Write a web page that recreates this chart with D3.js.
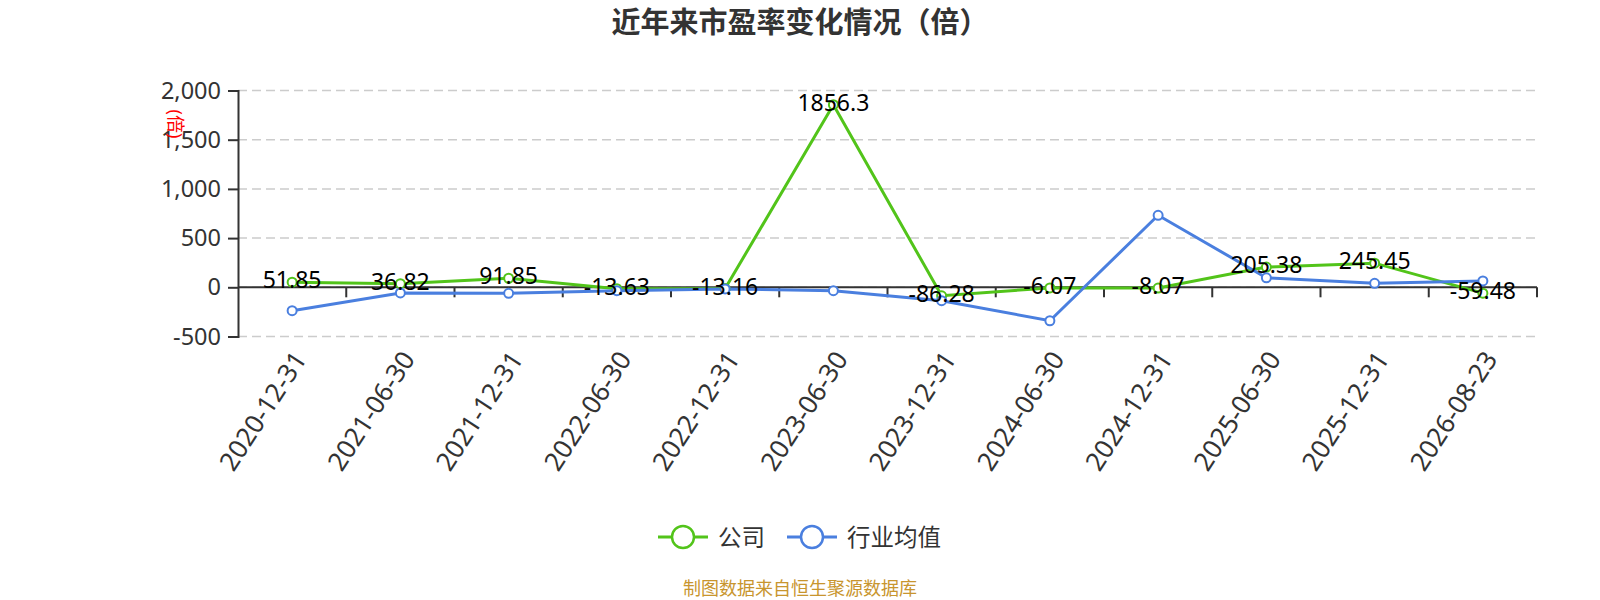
<!DOCTYPE html>
<html>
<head>
<meta charset="utf-8">
<script src="https://cdn.jsdelivr.net/npm/d3@7"></script>
<style>
  body { margin: 0; background: #fff; }
  text { font-family: "Noto Sans", "Noto Sans CJK SC", sans-serif; }
</style>
</head>
<body>
<div id="chart"></div>
<script>
// data
const dates = ["2020-12-31", "2021-06-30", "2021-12-31", "2022-06-30", "2022-12-31", "2023-06-30",
               "2023-12-31", "2024-06-30", "2024-12-31", "2025-06-30", "2025-12-31", "2026-08-23"];
const company = [51.85, 36.82, 91.85, -13.63, -13.16, 1856.3, -86.28, -6.07, -8.07, 205.38, 245.45, -59.48];
const industry = [-238, -57, -61, -34, -17, -34, -136, -340, 732, 96, 41, 65];
const yTicks = [-500, 0, 500, 1000, 1500, 2000];
const seriesNames = ["公司", "行业均值"];
const colors = ["#52c41a", "#4a7fdf"];

const width = 1600, height = 600;
const margin = {top: 90.5, bottom: 263.5, left: 238, right: 63};

const svg = d3.select("#chart")
    .append("svg")
    .attr("width", width)
    .attr("height", height);

const fmt = d3.formatLocale({decimal: ".", thousands: ",", grouping: [3], currency: ["", ""], minus: "-"}).format(",");

// scales
const x = d3.scaleBand()
    .domain(dates)
    .range([margin.left, width - margin.right])
    .padding(0);
const y = d3.scaleLinear()
    .domain([-500, 2000])
    .range([height - margin.bottom, margin.top]);
const cx = d => x(d) + x.bandwidth() / 2;

// title
svg.append("text")
    .attr("x", width / 2)
    .attr("y", 33)
    .attr("text-anchor", "middle")
    .attr("font-size", 29)
    .attr("font-weight", "bold")
    .attr("fill", "#333")
    .text("近年来市盈率变化情况（倍）");

// dashed grid
svg.append("g")
    .selectAll("line")
    .data(yTicks)
    .enter()
    .append("line")
    .attr("x1", margin.left)
    .attr("x2", width - margin.right)
    .attr("y1", d => y(d))
    .attr("y2", d => y(d))
    .attr("stroke", "#ccc")
    .attr("stroke-width", 1.5)
    .attr("stroke-dasharray", "9,5");

// y axis
const yAxis = svg.append("g")
    .attr("transform", `translate(${margin.left},0)`)
    .call(d3.axisLeft(y).tickValues(yTicks).tickFormat(fmt).tickSize(10).tickPadding(7));
yAxis.select(".domain").attr("stroke", "#333").attr("stroke-width", 2);
yAxis.selectAll(".tick line").attr("stroke", "#333").attr("stroke-width", 2);
yAxis.selectAll(".tick text")
    .attr("font-size", 23.5)
    .attr("fill", "#333")
    .style("font-family", "'Noto Sans', sans-serif");

// y unit label
svg.append("text")
    .attr("transform", "translate(176,124) rotate(90)")
    .attr("text-anchor", "middle")
    .attr("dominant-baseline", "central")
    .attr("font-size", 18)
    .attr("fill", "red")
    .text("(倍)");

// x axis on zero
const xAxis = svg.append("g")
    .attr("transform", `translate(0,${y(0)})`);
xAxis.append("line")
    .attr("x1", margin.left)
    .attr("x2", width - margin.right)
    .attr("stroke", "#333")
    .attr("stroke-width", 2);
xAxis.selectAll(".tk")
    .data(dates.slice(1).concat(["end"]))
    .enter()
    .append("line")
    .attr("x1", d => d === "end" ? width - margin.right : x(d))
    .attr("x2", d => d === "end" ? width - margin.right : x(d))
    .attr("y1", 0)
    .attr("y2", 10)
    .attr("stroke", "#333")
    .attr("stroke-width", 2);

// rotated date labels under the plot
svg.append("g")
    .selectAll("text")
    .data(dates)
    .enter()
    .append("text")
    .attr("transform", d => `translate(${cx(d) + 7},${height - margin.bottom + 17}) rotate(-57)`)
    .attr("text-anchor", "end")
    .attr("dominant-baseline", "central")
    .attr("font-size", 26)
    .attr("fill", "#333")
    .text(d => d);

// lines
const line = d3.line()
    .x((d, i) => cx(dates[i]))
    .y(d => y(d));

[company, industry].forEach((vals, k) => {
    svg.append("path")
        .datum(vals)
        .attr("fill", "none")
        .attr("stroke", colors[k])
        .attr("stroke-width", 3)
        .attr("d", line);
});

[company, industry].forEach((vals, k) => {
    svg.append("g")
        .selectAll("circle")
        .data(vals)
        .enter()
        .append("circle")
        .attr("cx", (d, i) => cx(dates[i]))
        .attr("cy", d => y(d))
        .attr("r", 4.5)
        .attr("fill", "#fff")
        .attr("stroke", colors[k])
        .attr("stroke-width", 2);
});

// value labels for company
svg.append("g")
    .selectAll("text")
    .data(company)
    .enter()
    .append("text")
    .attr("x", (d, i) => cx(dates[i]))
    .attr("y", d => y(d) - 3)
    .attr("text-anchor", "middle")
    .attr("dominant-baseline", "central")
    .attr("font-size", 23)
    .attr("fill", "#000")
    .text(d => d);

// legend
const legendX = [658, 787];
const legendTextX = [718, 847];
seriesNames.forEach((name, k) => {
    const g = svg.append("g");
    g.append("line")
        .attr("x1", legendX[k])
        .attr("x2", legendX[k] + 50)
        .attr("y1", 537)
        .attr("y2", 537)
        .attr("stroke", colors[k])
        .attr("stroke-width", 3);
    g.append("circle")
        .attr("cx", legendX[k] + 25)
        .attr("cy", 537)
        .attr("r", 11)
        .attr("fill", "#fff")
        .attr("stroke", colors[k])
        .attr("stroke-width", 2.5);
    g.append("text")
        .attr("x", legendTextX[k])
        .attr("y", 537)
        .attr("dominant-baseline", "central")
        .attr("font-size", 23.5)
        .attr("fill", "#333")
        .text(name);
});

// source note
svg.append("text")
    .attr("x", width / 2)
    .attr("y", 588)
    .attr("text-anchor", "middle")
    .attr("dominant-baseline", "central")
    .attr("font-size", 18)
    .attr("fill", "#c8952e")
    .text("制图数据来自恒生聚源数据库");
</script>
</body>
</html>
